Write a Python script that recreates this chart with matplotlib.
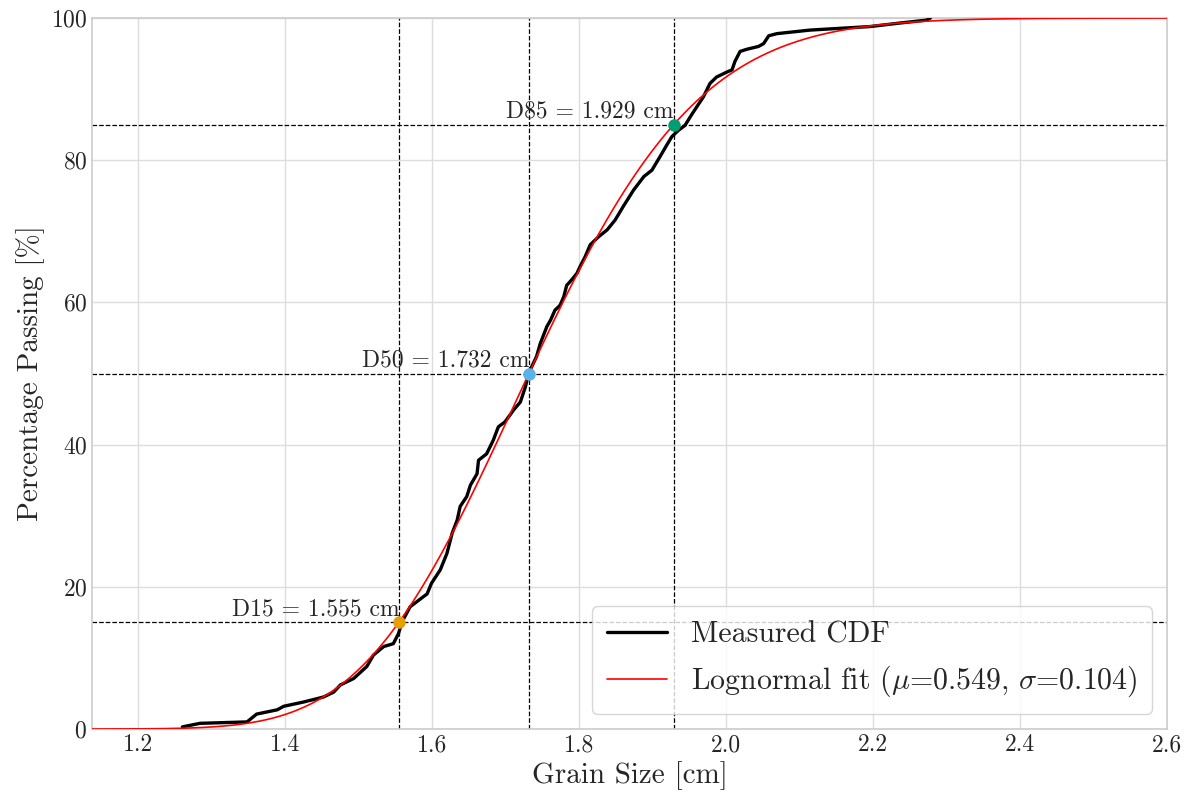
import math
import numpy as np
import matplotlib
matplotlib.use("Agg")
import matplotlib.pyplot as plt

# measured CDF
grain_size = [1.260, 1.284, 1.348, 1.361, 1.389, 1.398, 1.425, 1.452, 1.466, 1.475,
              1.493, 1.511, 1.520, 1.534, 1.547, 1.554, 1.559, 1.570, 1.584, 1.593,
              1.599, 1.611, 1.620, 1.627, 1.634, 1.638, 1.647, 1.652, 1.661, 1.663,
              1.674, 1.683, 1.690, 1.699, 1.711, 1.720, 1.727, 1.731, 1.742, 1.747,
              1.756, 1.761, 1.767, 1.774, 1.779, 1.783, 1.790, 1.797, 1.801, 1.808,
              1.815, 1.826, 1.838, 1.849, 1.860, 1.874, 1.888, 1.899, 1.910, 1.919,
              1.926, 1.935, 1.944, 1.953, 1.960, 1.969, 1.978, 1.987, 2.001, 2.008,
              2.012, 2.019, 2.028, 2.044, 2.051, 2.058, 2.069, 2.114, 2.196, 2.237,
              2.273, 2.278]
passing = [0.3, 0.8, 1.0, 2.1, 2.7, 3.2, 3.8, 4.5, 5.2, 6.2,
           7.1, 8.8, 10.4, 11.6, 12.0, 13.4, 15.1, 17.2, 18.3, 19.0,
           20.5, 22.4, 24.7, 27.5, 29.4, 31.3, 32.7, 34.3, 35.9, 37.8,
           38.7, 40.6, 42.5, 43.2, 44.9, 46.0, 48.2, 50.0, 52.4, 54.2,
           56.6, 57.5, 58.9, 59.6, 60.8, 62.4, 63.2, 64.1, 65.0, 66.4,
           68.1, 69.2, 70.2, 71.6, 73.5, 75.8, 77.7, 78.6, 80.5, 82.1,
           83.3, 84.2, 84.9, 86.4, 87.5, 88.9, 90.8, 91.7, 92.4, 92.7,
           93.9, 95.3, 95.6, 96.0, 96.4, 97.5, 97.8, 98.3, 98.8, 99.3,
           99.7, 100.0]

# lognormal fit parameters (from the legend)
mu = 0.549
sigma = 0.104

# characteristic sizes
d_labels = ["D15", "D50", "D85"]
d_pct = [15, 50, 85]
d_vals = [1.555, 1.732, 1.929]
d_colors = ["#E69F00", "#56B4E9", "#009E73"]

x_min, x_max = 1.137, 2.6

plt.style.use("seaborn-v0_8-whitegrid")
plt.rcParams["font.family"] = ["cmr10", "DejaVu Serif"]
plt.rcParams["mathtext.fontset"] = "cm"
plt.rcParams["axes.formatter.use_mathtext"] = True

fig = plt.figure(figsize=(11.89, 7.97), dpi=100)
ax = fig.add_axes([0.0774, 0.0853, 0.9041, 0.8921])

xs = np.linspace(x_min, x_max, 500)
fit = [50 * (1 + math.erf((math.log(v) - mu) / (sigma * math.sqrt(2)))) for v in xs]

ax.plot(grain_size, passing, color="black", lw=2.4, label="Measured CDF", zorder=3)
ax.plot(xs, fit, color="red", lw=1.2,
        label=r"Lognormal fit ($\mu$=0.549, $\sigma$=0.104)", zorder=4)

for lab, p, d, c in zip(d_labels, d_pct, d_vals, d_colors):
    ax.axhline(p, color="black", ls="--", lw=0.9, zorder=2)
    ax.axvline(d, color="black", ls="--", lw=0.9, zorder=2)
    ax.plot(d, p, "o", color=c, ms=8, zorder=5)
    ax.text(d, p + 0.3, f"{lab} = {d:.3f} cm", ha="right", va="bottom", fontsize=17)

ax.set_xlim(x_min, x_max)
ax.set_ylim(0, 100)
ax.set_xticks([1.2, 1.4, 1.6, 1.8, 2.0, 2.2, 2.4, 2.6])
ax.set_xticklabels(["1.2", "1.4", "1.6", "1.8", "2.0", "2.2", "2.4", "2.6"])
ax.set_yticks([0, 20, 40, 60, 80, 100])
ax.tick_params(labelsize=17)
ax.grid(color="#dddddd", lw=1.0)
ax.set_xlabel("Grain Size [cm]", fontsize=21)
ax.set_ylabel("Percentage Passing [%]", fontsize=21)

for s in ax.spines.values():
    s.set_visible(True)
    s.set_color("#cccccc")
    s.set_linewidth(1.2)

leg = ax.legend(loc="lower right", fontsize=21.5, frameon=True, framealpha=0.8,
                edgecolor="#cccccc", borderpad=0.5)

fig.savefig("out.png", dpi=100)
